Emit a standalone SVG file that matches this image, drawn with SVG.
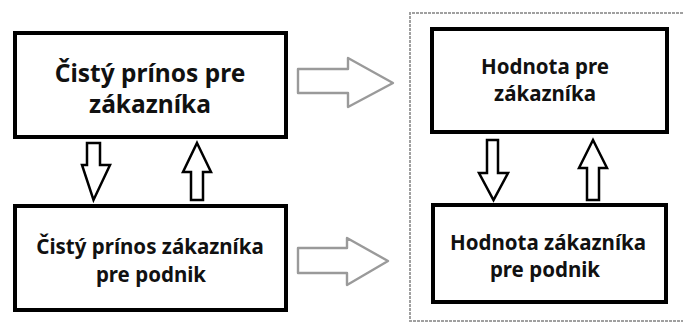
<svg xmlns="http://www.w3.org/2000/svg" width="683" height="322" viewBox="0 0 683 322">
<style>
.box{fill:#fff;stroke:#000;stroke-width:4}
.t{font-family:"Noto Sans","DejaVu Sans",sans-serif;font-weight:bold;fill:#111;text-anchor:middle}
.big{font-size:24.5px}
.sm{font-size:20.5px}
.ba{fill:#fff;stroke:#000;stroke-width:2.5;stroke-linejoin:miter}
.ga{fill:#fff;stroke:#9a9a9a;stroke-width:2.4;stroke-linejoin:round}
.frame{fill:none;stroke:#a0a0a0;stroke-width:2;stroke-dasharray:3 1}
</style>
<rect width="683" height="322" fill="#fff"/>
<path class="frame" d="M683,13 H410 V321 H683"/>
<g id="n1">
<rect class="box" x="15" y="33" width="271" height="104"/>
<text class="t big" x="150" y="82">Čistý prínos pre</text>
<text class="t big" x="150" y="113">zákazníka</text>
</g>
<g id="n2">
<rect class="box" x="15" y="206" width="271" height="104"/>
<text class="t sm" x="150" y="254">Čistý prínos zákazníka</text>
<text class="t sm" x="151" y="282">pre podnik</text>
</g>
<g id="n3">
<rect class="box" x="432" y="29" width="235" height="103"/>
<text class="t sm" x="545" y="74">Hodnota pre</text>
<text class="t sm" x="545" y="101">zákazníka</text>
</g>
<g id="n4">
<rect class="box" x="433" y="205" width="233" height="97"/>
<text class="t sm" x="548" y="250">Hodnota zákazníka</text>
<text class="t sm" x="545" y="277">pre podnik</text>
</g>
<g id="connectors">
<path class="ba" d="M87,143 H100 V165 H110 L93.5,200 L82,165 H87 Z"/>
<path class="ba" d="M197,143 L211,172 H203 V200 H191 V172 H183 Z"/>
<path class="ba" d="M487,140 H498 V173 H508 L493.5,200 L479,173 H487 Z"/>
<path class="ba" d="M593,140 L607,168 H599 V200 H587 V168 H579 Z"/>
<path class="ga" d="M298,69 H348 V58 L393,83 L348,107 V93 H298 Z"/>
<path class="ga" d="M298,248 H347 V238 L388,261 L347,285 V273 H298 Z"/>
</g>
</svg>
